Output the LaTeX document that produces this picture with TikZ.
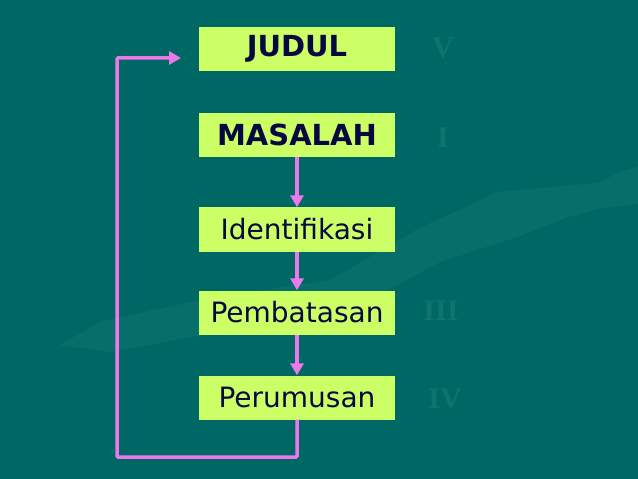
\documentclass[tikz,border=0pt]{standalone}
\usepackage{fontspec}
\usepackage{xcolor}
\usetikzlibrary{arrows.meta}
\newfontfamily\boxfont{DejaVu Sans}
\newfontfamily\numfont{Liberation Serif}
\definecolor{seateal}{RGB}{0, 104, 100}
\definecolor{palmteal}{RGB}{60, 150, 140}
\definecolor{numteal}{RGB}{16, 116, 110}
\definecolor{limebox}{RGB}{204, 255, 102}
\definecolor{inknavy}{RGB}{8, 8, 64}
\definecolor{orchidline}{RGB}{236, 120, 236}

\begin{document}
\begin{tikzpicture}[x=1bp, y=-1bp,
            stage/.style = {
                fill=limebox,
                text=inknavy,
                inner sep=0pt,
                minimum height=44bp,
                minimum width=196bp,
                font=\boxfont\fontsize{28bp}{30bp}\selectfont
                },
            headstage/.style = {
                stage,
                font=\boxfont\bfseries\fontsize{29bp}{31bp}\selectfont},
            flow/.style = {
                draw=orchidline,
                line width=3.5bp,
                -{Triangle[length=12bp, width=13bp]}},
            numeral/.style = {
                text=numteal,
                font=\numfont\bfseries\fontsize{30bp}{32bp}\selectfont}]
            \useasboundingbox (0,0) rectangle (638,479);
            \fill[seateal] (0,0) rectangle (638,479);
            % faint arm in the background
            \fill[palmteal, opacity=0.15] (638,166) -- (618,173) -- (598,183) -- (497,192)
                -- (470,205) -- (420,228) -- (330,280) -- (200,300) -- (100,322) -- (60,345)
                -- (110,352) -- (230,330) -- (350,310) -- (440,262) -- (520,236) -- (565,218)
                -- (600,208) -- (638,204) -- cycle;
            \node[numeral] (nv) at (443,48) {V};
            \node[numeral] (ni) at (443,138) {I};
            \node[numeral] (niii) at (441,311) {III};
            \node[numeral] (niv) at (445,399) {IV};

            \node[headstage] (judul) at (297,49) {JUDUL};
            \node[headstage] (masalah) at (297,135) {MASALAH};
            \node[stage] (identifikasi) at (297,229.5) {Identifikasi};
            \node[stage] (pembatasan) at (297,312.5) {Pembatasan};
            \node[stage] (perumusan) at (297,397.5) {Perumusan};
            \coordinate (loopcorner) at (117,457);
            \coordinate (loopend) at (181,58);

            \draw[flow] (masalah) -- (identifikasi);
            \draw[flow] (identifikasi) -- (pembatasan);
            \draw[flow] (pembatasan) -- (perumusan);
            \draw[flow, rounded corners=1bp] (perumusan.south) |- (loopcorner) |- (loopend);
        \end{tikzpicture}
\end{document}
